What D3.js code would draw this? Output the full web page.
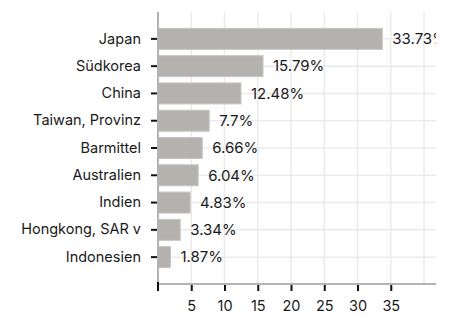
<!DOCTYPE html>
<html>
<head>
<meta charset="utf-8">
<script src="https://cdn.jsdelivr.net/npm/d3@7"></script>
<style>
  body { margin: 0; background: #fff; }
  text { font-family: Inter, "Noto Sans", sans-serif; }
</style>
</head>
<body>
<script>
const countries = ["Japan", "Südkorea", "China", "Taiwan, Provinz", "Barmittel",
  "Australien", "Indien", "Hongkong, SAR v", "Indonesien"];
const shares = [33.73, 15.79, 12.48, 7.7, 6.66, 6.04, 4.83, 3.34, 1.87];
const xTicks = [5, 10, 15, 20, 25, 30, 35];
const gridTicks = [0, 5, 10, 15, 20, 25, 30, 35, 40];

const W = 453, H = 316;
const mLeft = 158, mRight = 436, mTop = 12, mBottom = 284;

let svg = d3.select("body").append("svg")
  .attr("width", W).attr("height", H);

let x = d3.scaleLinear().domain([0, 41.8]).range([mLeft, mRight]);
let y = d3.scaleBand().domain(countries).range([mTop, mBottom])
  .paddingInner(0.23).paddingOuter(0.6);

svg.append("clipPath").attr("id", "plot")
  .append("rect").attr("x", mLeft).attr("y", mTop)
  .attr("width", mRight - mLeft).attr("height", mBottom - mTop);

// grid
let grid = svg.append("g");
grid.selectAll(".gx").data(gridTicks).enter().append("line")
  .attr("x1", d => x(d)).attr("x2", d => x(d))
  .attr("y1", mTop).attr("y2", mBottom)
  .attr("stroke", "#ebebeb").attr("stroke-width", 1.5);
grid.selectAll(".gy").data(countries).enter().append("line")
  .attr("x1", mLeft).attr("x2", mRight)
  .attr("y1", d => y(d) + y.bandwidth() / 2).attr("y2", d => y(d) + y.bandwidth() / 2)
  .attr("stroke", "#ebebeb").attr("stroke-width", 1.5);

let plot = svg.append("g").attr("clip-path", "url(#plot)");

plot.selectAll("rect.bar").data(shares).enter().append("rect")
  .attr("class", "bar")
  .attr("x", x(0))
  .attr("y", (d, i) => y(countries[i]))
  .attr("width", d => x(d) - x(0))
  .attr("height", y.bandwidth())
  .attr("fill", "#b4b2ae")
  .attr("stroke", "#c8c6c2").attr("stroke-width", 1);

plot.selectAll("text.val").data(shares).enter().append("text")
  .attr("class", "val")
  .attr("x", d => x(d) + 10)
  .attr("y", (d, i) => y(countries[i]) + y.bandwidth() / 2)
  .attr("dy", "0.35em")
  .attr("font-size", 15)
  .attr("fill", "#1a1a1a")
  .text(d => d + "%");

// axes
let yAxis = svg.append("g").attr("transform", `translate(${mLeft},0)`)
  .call(d3.axisLeft(y).tickSize(7).tickPadding(10));
yAxis.select(".domain").remove();
yAxis.selectAll(".tick line").attr("stroke", "#111").attr("stroke-width", 2);
yAxis.selectAll(".tick text").attr("font-size", 14.5).attr("fill", "#1a1a1a")
  .style("font-family", "Inter, sans-serif");
svg.append("line").attr("x1", mLeft).attr("x2", mLeft).attr("y1", mTop).attr("y2", mBottom)
  .attr("stroke", "#b3b3b3").attr("stroke-width", 2);

let xAxis = svg.append("g").attr("transform", `translate(0,${mBottom})`)
  .call(d3.axisBottom(x).tickValues(xTicks).tickSize(7).tickPadding(10));
xAxis.select(".domain").remove();
xAxis.selectAll(".tick line").attr("stroke", "#111").attr("stroke-width", 2);
xAxis.selectAll(".tick text").attr("font-size", 14.5).attr("fill", "#1a1a1a")
  .style("font-family", "Inter, sans-serif");
svg.append("line").attr("x1", mLeft).attr("x2", mRight).attr("y1", mBottom).attr("y2", mBottom)
  .attr("stroke", "#b3b3b3").attr("stroke-width", 2);
// zero tick
svg.append("line").attr("x1", x(0)).attr("x2", x(0)).attr("y1", mBottom - 2).attr("y2", mBottom + 7)
  .attr("stroke", "#111").attr("stroke-width", 2);
</script>
</body>
</html>
